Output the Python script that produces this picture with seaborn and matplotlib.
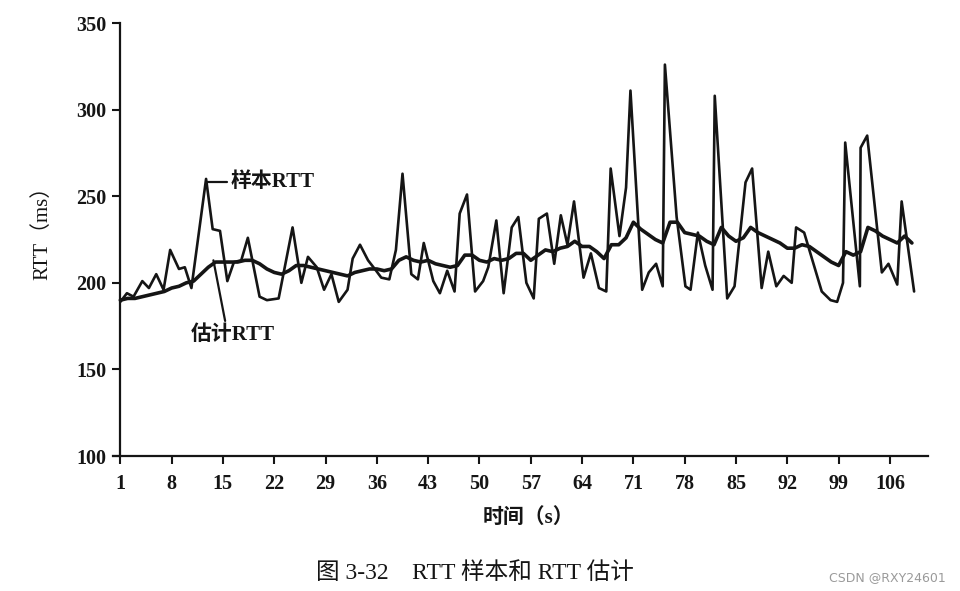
import numpy as np
import pandas as pd
import seaborn as sns
import matplotlib
matplotlib.use("Agg")
import matplotlib.pyplot as plt

# sample RTT (time in s, rtt in ms)
sample_t = [1.0, 1.9, 2.8, 4.0, 4.9, 5.9, 6.9, 7.8, 9.0, 9.8, 10.7, 12.7, 13.6, 14.6,
            15.6, 16.5, 17.5, 18.4, 20.0, 21.0, 22.6, 24.5, 25.7, 26.6, 27.8, 28.8,
            29.8, 30.8, 32.0, 32.7, 33.7, 34.8, 35.9, 36.6, 37.7, 38.6, 39.5, 40.7,
            41.6, 42.4, 43.7, 44.6, 45.6, 46.6, 47.3, 48.3, 49.4, 50.5, 51.2, 52.3,
            53.3, 54.4, 55.3, 56.4, 57.4, 58.1, 59.2, 60.2, 61.1, 62.0, 62.9, 64.2,
            65.2, 66.3, 67.3, 67.9, 69.1, 70.0, 70.6, 72.2, 73.1, 74.1, 75.0, 75.3,
            76.9, 78.1, 78.8, 79.8, 80.8, 81.8, 82.1, 83.8, 84.8, 86.3, 87.2, 88.5,
            89.4, 90.5, 91.5, 92.6, 93.2, 94.3, 96.7, 97.9, 98.8, 99.6, 99.9, 101.9,
            102.0, 102.9, 104.9, 105.8, 107.0, 107.6, 109.3]
sample_rtt = [189, 194, 192, 201, 197, 205, 196, 219, 208, 209, 197, 260, 231, 230,
              201, 212, 213, 226, 192, 190, 191, 232, 200, 215, 209, 196,
              205, 189, 196, 214, 222, 213, 207, 203, 202, 219, 263, 205,
              202, 223, 201, 194, 207, 195, 240, 251, 195, 201, 209, 236,
              194, 232, 238, 200, 191, 237, 240, 211, 239, 222, 247, 203,
              217, 197, 195, 266, 227, 255, 311, 196, 206, 211, 198, 326,
              238, 198, 196, 229, 210, 196, 308, 191, 198, 258, 266, 197,
              218, 198, 204, 200, 232, 229, 195, 190, 189, 200, 281, 198,
              278, 285, 206, 211, 199, 247, 195]

# estimated RTT
est_t = list(range(1, 110))
est_rtt = [190, 191, 191, 192, 193, 194, 195, 197, 198, 200, 201, 205, 209, 212, 212,
           212, 212, 213, 213, 211, 208, 206, 205, 207, 210, 210, 209, 208, 207, 206,
           205, 204, 206, 207, 208, 208, 207, 208, 213, 215, 213, 212, 213, 211, 210,
           209, 210, 216, 216, 213, 212, 214, 213, 214, 217, 217, 213, 216, 219, 218,
           220, 221, 224, 221, 221, 218, 214, 222, 222, 226, 235, 231, 228, 225, 223,
           235, 235, 229, 228, 227, 224, 222, 232, 227, 224, 226, 232, 229, 227, 225,
           223, 220, 220, 222, 221, 218, 215, 212, 210, 218, 216, 218, 232, 230, 227,
           225, 223, 227, 223]

xticks = list(range(1, 107, 7))
yticks = [100, 150, 200, 250, 300, 350]

sns.set_style("ticks")
plt.rcParams['font.family'] = ['Liberation Serif', 'Noto Sans CJK SC']
plt.rcParams['axes.unicode_minus'] = False

fig = plt.figure(figsize=(9.6, 5.91), dpi=100)
ax = fig.add_axes([0.1177, 0.2284, 0.849, 0.7326])

df_s = pd.DataFrame({"t": sample_t, "rtt": sample_rtt})
df_e = pd.DataFrame({"t": est_t, "rtt": est_rtt})
sns.lineplot(data=df_s, x="t", y="rtt", ax=ax, color="#151515", linewidth=1.9, estimator=None)
sns.lineplot(data=df_e, x="t", y="rtt", ax=ax, color="#151515", linewidth=2.6, estimator=None)

ax.set_xlim(0, 111.2)
ax.set_ylim(100, 350)
ax.spines['left'].set_position(('data', 1))
sns.despine(ax=ax)
for s in ['left', 'bottom']:
    ax.spines[s].set_linewidth(1.6)
    ax.spines[s].set_color("#151515")

ax.set_xticks(xticks)
ax.set_yticks(yticks)
ax.tick_params(axis='both', length=6, width=1.5, color="#151515", labelsize=14.5, labelcolor="#151515")
ax.tick_params(axis='x', pad=7)
ax.tick_params(axis='y', pad=4)
for lab in ax.get_xticklabels() + ax.get_yticklabels():
    lab.set_fontweight('bold')

ax.set_ylabel("RTT（ms）", fontsize=15, color="#151515")
ax.yaxis.set_label_coords(-0.086, 0.527)
ax.set_xlabel("时间（s）", fontsize=15, fontweight='bold', color="#151515")
ax.xaxis.set_label_coords(0.51, -0.143)
ax.xaxis.label.set_va('center')
ax.yaxis.label.set_va('center')

# leader lines and labels
ax.plot([12.7, 15.6], [258, 258], color="#151515", linewidth=1.6)
ax.text(16.1, 258, "样本RTT", fontsize=15, fontweight='bold', ha='left', va='center', color="#151515")
ax.plot([13.7, 15.3], [213, 178], color="#151515", linewidth=1.6)
ax.text(16.4, 170, "估计RTT", fontsize=15, fontweight='bold', ha='center', va='center', color="#151515")

fig.text(0.495, 0.0305, "图 3-32    RTT 样本和 RTT 估计", fontsize=17, ha='center', va='center', color="#151515")
fig.text(0.985, 0.022, "CSDN @RXY24601", fontsize=9, ha='right', va='center', color="#9a9a9a",
         family=['DejaVu Sans'])

fig.savefig("out.png", dpi=100)
